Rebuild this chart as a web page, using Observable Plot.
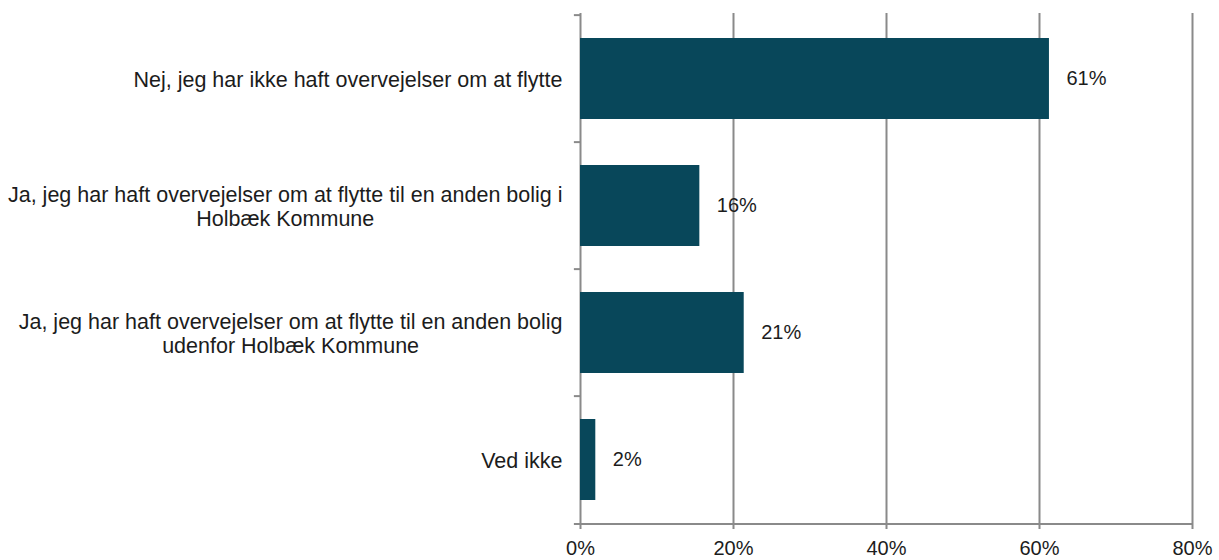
<!DOCTYPE html>
<html>
<head>
<meta charset="utf-8">
<script src="https://cdn.jsdelivr.net/npm/d3@7"></script>
<script src="https://cdn.jsdelivr.net/npm/@observablehq/plot@0.6"></script>
<style>
  html, body { margin: 0; padding: 0; background: #ffffff; }
  #chart { width: 1219px; height: 560px; }
</style>
</head>
<body>
<div id="chart"></div>
<script>
const categories = [
  "Nej, jeg har ikke haft overvejelser om at flytte",
  "Ja, jeg har haft overvejelser om at flytte til en anden bolig i Holbæk Kommune",
  "Ja, jeg har haft overvejelser om at flytte til en anden bolig udenfor Holbæk Kommune",
  "Ved ikke"
];
const categoryLabels = [
  "Nej, jeg har ikke haft overvejelser om at flytte",
  "Ja, jeg har haft overvejelser om at flytte til en anden bolig i\nHolbæk Kommune",
  "Ja, jeg har haft overvejelser om at flytte til en anden bolig\nudenfor Holbæk Kommune",
  "Ved ikke"
];
const values = [61.3, 15.6, 21.4, 2.0];
const valueLabels = ["61%", "16%", "21%", "2%"];
const xTicks = [0, 20, 40, 60, 80];

const data = categories.map((c, i) => ({category: c, value: values[i], label: valueLabels[i], display: categoryLabels[i]}));

const width = 1219, height = 560;
const marginTop = 13, marginBottom = 36, marginLeft = 580, marginRight = 27;
const bw = (height - marginTop - marginBottom) / categories.length;
const gray = "#8a8a8a";
const barColor = "#08475a";

const plot = Plot.plot({
  width, height, marginTop, marginBottom, marginLeft, marginRight,
  style: {fontFamily: "'Liberation Sans', Arial, sans-serif", fontSize: "20px", color: "#1c1c1c", background: "#ffffff"},
  x: {domain: [0, 80], axis: null, label: null},
  y: {domain: categories, padding: 0, axis: null, label: null},
  marks: [
    Plot.ruleX(xTicks, {stroke: gray, strokeWidth: 2, insetBottom: -5}),
    Plot.ruleY(categories, {y: d => d, x1: () => -0.8, x2: () => 0, dy: -bw / 2, stroke: gray, strokeWidth: 2}),
    Plot.ruleY([categories[categories.length - 1]], {y: d => d, x1: () => -0.8, x2: () => 80, dy: bw / 2, stroke: gray, strokeWidth: 2}),
    Plot.barX(data, {x: "value", y: "category", fill: barColor, insetTop: 23, insetBottom: 23}),
    Plot.text(data, {y: "category", text: "display", frameAnchor: "left", textAnchor: "end", dx: -18, lineHeight: 1.12, fontSize: 21.5}),
    Plot.text(data, {x: "value", y: "category", text: "label", textAnchor: "start", dx: 17, fontSize: 20}),
    Plot.axisX({ticks: xTicks, tickFormat: d => d + "%", tickSize: 0, tickPadding: 16, fontSize: 20, label: null})
  ]
});
document.getElementById("chart").appendChild(plot);

// Center multi-line category labels (as in the reference)
const textGroups = plot.querySelectorAll('g[aria-label="text"]');
if (textGroups.length) {
  textGroups[0].querySelectorAll("text").forEach(t => {
    const spans = t.querySelectorAll("tspan");
    if (spans.length > 1) {
      let maxW = 0;
      spans.forEach(s => { maxW = Math.max(maxW, s.getComputedTextLength()); });
      t.setAttribute("text-anchor", "middle");
      spans.forEach(s => {
        const x0 = +(s.getAttribute("x") || 0);
        s.setAttribute("x", x0 - maxW / 2);
      });
    }
  });
}
</script>
</body>
</html>
